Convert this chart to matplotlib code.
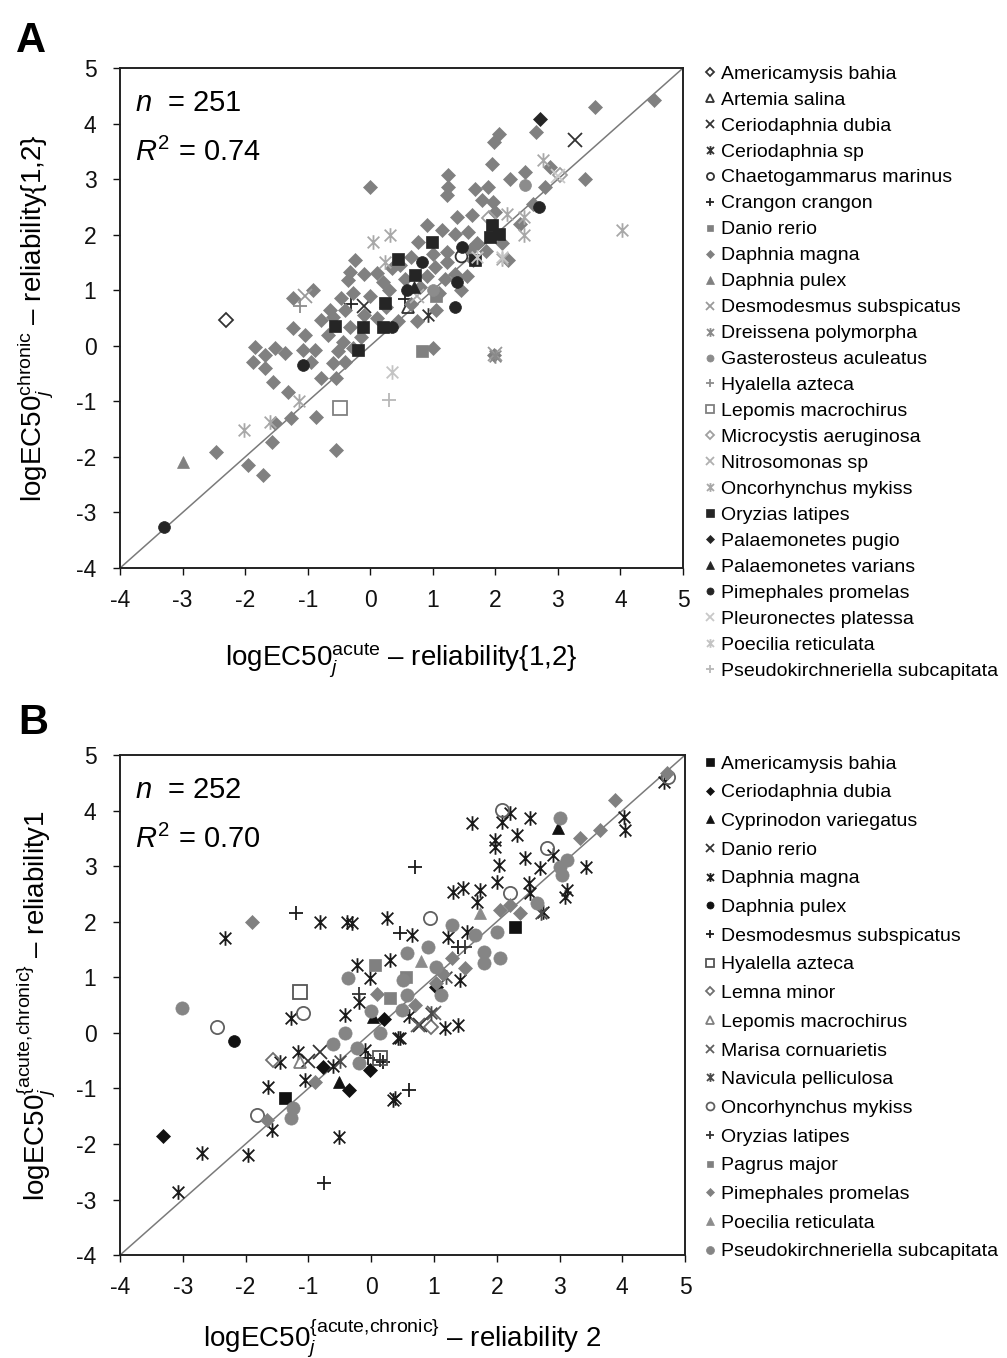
import matplotlib
matplotlib.use("Agg")
import matplotlib.pyplot as plt
from matplotlib.path import Path
import numpy as np

plt.rcParams['font.family'] = ['Liberation Sans', 'DejaVu Sans']
plt.rcParams['mathtext.fontset'] = 'custom'
plt.rcParams['mathtext.rm'] = 'Liberation Sans'
plt.rcParams['mathtext.it'] = 'Liberation Sans:italic'
plt.rcParams['mathtext.bf'] = 'Liberation Sans:bold'
plt.rcParams['axes.unicode_minus'] = False

# asterisk marker (x with vertical bar)
AST = Path([(-1, -1), (1, 1), (-1, 1), (1, -1), (0, -1.25), (0, 1.25)],
           [Path.MOVETO, Path.LINETO, Path.MOVETO, Path.LINETO, Path.MOVETO, Path.LINETO])

# ---------------- Panel A data ----------------
species_A = ["Americamysis bahia", "Artemia salina", "Ceriodaphnia dubia", "Ceriodaphnia sp",
             "Chaetogammarus marinus", "Crangon crangon", "Danio rerio", "Daphnia magna",
             "Daphnia pulex", "Desmodesmus subspicatus", "Dreissena polymorpha",
             "Gasterosteus aculeatus", "Hyalella azteca", "Lepomis macrochirus",
             "Microcystis aeruginosa", "Nitrosomonas sp", "Oncorhynchus mykiss",
             "Oryzias latipes", "Palaemonetes pugio", "Palaemonetes varians",
             "Pimephales promelas", "Pleuronectes platessa", "Poecilia reticulata",
             "Pseudokirchneriella subcapitata"]

A_americamysis_x = [-2.3]
A_americamysis_y = [0.47]
A_artemia_x = [0.6]
A_artemia_y = [0.7]
A_cdubia_x = [3.27, -0.1]
A_cdubia_y = [3.7, 0.72]
A_csp_x = [0.93]
A_csp_y = [0.55]
A_chaeto_x = [1.45]
A_chaeto_y = [1.62]
A_crangon_x = [0.55, -0.3]
A_crangon_y = [0.85, 0.75]
A_danio_x = [0.82, 1.05]
A_danio_y = [-0.1, 0.9]
A_dmagna_x = [-1.52, -1.57, -1.95, -1.72, -2.47, -0.54, -1.26, -0.86, -1.84, -1.87, -1.68,
              -1.52, -1.36, -1.68, -1.55, -1.31, -1.23, -1.04, -1.07, -0.88, -0.94, -0.78,
              -0.67, -0.59, -0.51, -0.59, -0.78, -0.54, -0.40, -0.44, -0.32, -0.27, -0.40,
              0.00, -0.24, -0.32, -0.36, -0.91, -1.23, -0.46, -0.64, -0.27, 0.10,
              4.53, 3.59, 2.65, 2.05, 1.98, 1.94, 2.87, 3.43, 1.25, 1.25, 1.22, 2.23, 2.48,
              1.67, 1.88, 1.78, 1.96, 1.99, 1.38, 1.62, 0.90, 1.14, 1.36, 1.57, 0.77, 1.01,
              1.22, 1.59, 1.70, 0.48, 1.04, 1.22, 1.36, 1.00, 1.97,
              0.10, 0.30, 0.55, 0.65, 0.80, 1.10, 1.20, 0.00, -0.10, 0.20, 0.45, 0.75, 1.05,
              1.55, 1.65, 1.85, -0.15, 0.25, 0.90, 1.45, 0.65, 0.35, -0.10, 2.10, 2.20, 2.40,
              2.60, 2.80]
A_dmagna_y = [-1.39, -1.73, -2.15, -2.33, -1.91, -1.88, -1.30, -1.28, -0.02, -0.29, -0.17,
              -0.04, -0.13, -0.40, -0.65, -0.83, 0.32, 0.19, -0.08, -0.08, -0.29, 0.46,
              0.19, 0.52, -0.10, -0.31, -0.58, -0.58, -0.29, 0.07, 0.34, -0.04, 0.64,
              2.86, 1.54, 1.33, 1.18, 1.00, 0.86, 0.86, 0.64, 0.95, 1.31,
              4.42, 4.30, 3.84, 3.81, 3.67, 3.28, 3.22, 3.01, 3.07, 2.86, 2.71, 3.01, 3.13,
              2.83, 2.86, 2.62, 2.59, 2.41, 2.32, 2.35, 2.17, 2.08, 2.02, 2.05, 1.87, 1.66,
              1.69, 1.72, 1.85, 1.45, 1.42, 1.51, 1.30, -0.04, -0.17,
              0.50, 1.00, 1.20, 0.75, 1.05, 0.95, 1.20, 0.90, 1.30, 1.15, 0.45, 0.45, 0.65,
              1.25, 1.55, 1.70, 0.15, 0.70, 1.25, 1.00, 1.60, 1.40, 0.55, 1.85, 1.55, 2.20,
              2.55, 2.85]
A_dpulex_x = [-3.0]
A_dpulex_y = [-2.1]
A_desmo_x = [1.99, -1.05]
A_desmo_y = [-0.14, 0.90]
A_dreiss_x = [2.0]
A_dreiss_y = [-0.18]
A_gaster_x = [2.48, 1.0]
A_gaster_y = [2.89, 1.0]
A_hyal_x = [-1.12]
A_hyal_y = [0.72]
A_lepomis_x = [-0.48]
A_lepomis_y = [-1.12]
A_microc_x = [3.03, 1.9]
A_microc_y = [3.07, 2.3]
A_nitro_x = [0.75]
A_nitro_y = [0.9]
A_onco_x = [-2.02, -1.60, -1.14, 0.04, 0.32, 0.24, 2.76, 2.18, 2.45, 2.45, 4.02, 2.10]
A_onco_y = [-1.52, -1.37, -1.00, 1.87, 1.99, 1.51, 3.34, 2.38, 2.32, 2.00, 2.08, 1.57]
A_oryz_x = [-0.12, 0.20, -0.19, 0.24, 0.45, 0.98, 0.72, 1.94, 1.91, 2.05, 1.67, -0.56]
A_oryz_y = [0.34, 0.34, -0.08, 0.77, 1.56, 1.87, 1.27, 2.17, 1.96, 2.02, 1.54, 0.35]
A_ppugio_x = [2.71]
A_ppugio_y = [4.09]
A_pvar_x = [0.7]
A_pvar_y = [1.05]
A_pime_x = [-3.30, -1.07, 0.34, 0.58, 0.82, 1.46, 1.36, 1.38, 2.69]
A_pime_y = [-3.27, -0.35, 0.34, 1.00, 1.51, 1.78, 0.69, 1.15, 2.50]
A_pleur_x = [3.0]
A_pleur_y = [3.05]
A_poec_x = [0.34, 2.10, 1.70]
A_poec_y = [-0.47, 1.60, 1.60]
A_pseudo_x = [0.3]
A_pseudo_y = [-0.98]

# ---------------- Panel B data ----------------
species_B = ["Americamysis bahia", "Ceriodaphnia dubia", "Cyprinodon variegatus", "Danio rerio",
             "Daphnia magna", "Daphnia pulex", "Desmodesmus subspicatus", "Hyalella azteca",
             "Lemna minor", "Lepomis macrochirus", "Marisa cornuarietis", "Navicula pelliculosa",
             "Oncorhynchus mykiss", "Oryzias latipes", "Pagrus major", "Pimephales promelas",
             "Poecilia reticulata", "Pseudokirchneriella subcapitata"]

B_americ_x = [2.29, -1.37]
B_americ_y = [1.91, -1.18]
B_cdubia_x = [-3.31, -0.76, -0.36, -0.02, 1.04, 0.20]
B_cdubia_y = [-1.86, -0.61, -1.03, -0.67, 0.83, 0.25]
B_cypr_x = [-0.52, 0.03, 2.98]
B_cypr_y = [-0.88, 0.29, 3.68]
B_danio_x = [-0.81, 0.78, -1.00]
B_danio_y = [-0.34, 0.14, -0.50]
B_dmagna_x = [-2.33, -0.81, -0.39, -0.30, -0.23, -0.02, 0.30, -1.27, -2.70, -1.96, -3.07,
              -0.52, -1.58, -1.64, -1.05, -1.45, -1.16, -0.42, -0.20, 0.43, 0.35, 0.38, 0.46,
              1.18, 1.39, 1.42, 4.66, 4.02, 4.04, 3.43, 2.90, 3.12, 3.09, 2.74, 2.45, 2.69,
              2.51, 2.53, 1.60, 2.08, 2.21, 2.53, 2.32, 1.97, 1.97, 2.03, 2.00, 1.31, 1.47,
              1.73, 1.68, 0.25, 0.65, 1.23, 1.52, -0.60, -0.10, 0.60]
B_dmagna_y = [1.70, 2.00, 2.00, 1.98, 1.22, 0.99, 1.31, 0.26, -2.17, -2.20, -2.86,
              -1.87, -1.75, -0.97, -0.85, -0.52, -0.34, 0.32, 0.56, -0.10, -1.21, -1.18, -0.10,
              0.08, 0.14, 0.95, 4.52, 3.89, 3.65, 2.99, 3.20, 2.57, 2.45, 2.18, 3.14, 2.96,
              2.69, 2.51, 3.77, 3.80, 3.95, 3.86, 3.56, 3.47, 3.35, 3.02, 2.72, 2.54, 2.60,
              2.57, 2.36, 2.06, 1.76, 1.73, 1.82, -0.60, -0.30, 0.30]
B_dpulex_x = [-2.18]
B_dpulex_y = [-0.15]
B_desmo_x = [-1.19, 0.70, 0.46, -0.75, 0.19, 0.61, 1.39, -0.05]
B_desmo_y = [2.15, 2.99, 1.79, -2.71, -0.52, -1.03, 1.55, -0.45]
B_hyal_x = [-1.13, 0.14]
B_hyal_y = [0.74, -0.45]
B_lemna_x = [-1.56, 0.95]
B_lemna_y = [-0.49, 0.10]
B_lepomis_x = [-1.13]
B_lepomis_y = [-0.52]
B_marisa_x = [1.00, 0.75]
B_marisa_y = [0.35, 0.15]
B_navic_x = [0.95, 1.20, -0.50, 2.70]
B_navic_y = [0.35, 1.00, -0.50, 2.15]
B_onco_x = [-2.46, -1.09, -1.82, 0.94, 2.08, 2.80, 2.21, 4.73]
B_onco_y = [0.11, 0.35, -1.48, 2.06, 4.01, 3.32, 2.51, 4.60]
B_oryz_x = [0.14, 1.50, -0.20]
B_oryz_y = [-0.49, 1.55, 0.70]
B_pagrus_x = [0.06, 0.30, 0.55]
B_pagrus_y = [1.22, 0.62, 1.00]
B_pime_x = [-1.90, -1.66, -0.89, 4.71, 3.89, 3.65, 3.33, 2.21, 2.05, 2.37, 1.28, 1.49, 1.04,
            1.15, 0.10, 0.70]
B_pime_y = [2.00, -1.57, -0.88, 4.67, 4.19, 3.65, 3.50, 2.30, 2.21, 2.15, 1.34, 1.16, 0.89,
            1.05, 0.70, 0.50]
B_poec_x = [1.73, 0.80]
B_poec_y = [2.15, 1.30]
B_pseudo_x = [-3.02, -0.37, -1.24, -1.27, -0.42, -0.23, -0.20, 0.14, 0.49, 0.57, 1.12, 3.01,
              3.01, 3.12, 3.04, 2.64, 1.28, 2.00, 1.65, 1.79, 2.05, 1.79, 1.04, 0.91, 0.57,
              0.51, 0.00, -0.60]
B_pseudo_y = [0.44, 0.99, -1.36, -1.54, 0.00, -0.28, -0.55, 0.00, 0.41, 0.68, 0.68, 3.86,
              2.99, 3.11, 2.84, 2.33, 1.94, 1.82, 1.76, 1.46, 1.34, 1.25, 1.19, 1.55, 1.43,
              0.95, 0.40, -0.20]

ticks = [-4, -3, -2, -1, 0, 1, 2, 3, 4, 5]

# style: (marker, color, filled, size)
DK = '#333333'
G = '#808080'
styleA = [('D', DK, False, 7.5), ('^', DK, False, 8.5), ('x', DK, False, 9.5), (AST, DK, False, 10.5),
          ('o', DK, False, 8.5), ('+', '#222222', False, 10.5), ('s', G, True, 8.0), ('D', G, True, 7.6),
          ('^', G, True, 9.0), ('x', '#9a9a9a', False, 9.5), (AST, '#8a8a8a', False, 10.5),
          ('o', '#8c8c8c', True, 8.5), ('+', '#8c8c8c', False, 10.5), ('s', G, False, 9.5),
          ('D', '#a0a0a0', False, 7.5), ('x', '#b0b0b0', False, 9.5), (AST, '#a8a8a8', False, 10.5),
          ('s', '#252525', True, 8.5), ('D', '#252525', True, 7.6), ('^', '#252525', True, 8.5),
          ('o', '#252525', True, 8.5), ('x', '#c8c8c8', False, 9.5), (AST, '#c4c4c4', False, 10.5),
          ('+', '#b8b8b8', False, 10.5)]
dataA = [(A_americamysis_x, A_americamysis_y), (A_artemia_x, A_artemia_y), (A_cdubia_x, A_cdubia_y),
         (A_csp_x, A_csp_y), (A_chaeto_x, A_chaeto_y), (A_crangon_x, A_crangon_y),
         (A_danio_x, A_danio_y), (A_dmagna_x, A_dmagna_y), (A_dpulex_x, A_dpulex_y),
         (A_desmo_x, A_desmo_y), (A_dreiss_x, A_dreiss_y), (A_gaster_x, A_gaster_y),
         (A_hyal_x, A_hyal_y), (A_lepomis_x, A_lepomis_y), (A_microc_x, A_microc_y),
         (A_nitro_x, A_nitro_y), (A_onco_x, A_onco_y), (A_oryz_x, A_oryz_y),
         (A_ppugio_x, A_ppugio_y), (A_pvar_x, A_pvar_y), (A_pime_x, A_pime_y),
         (A_pleur_x, A_pleur_y), (A_poec_x, A_poec_y), (A_pseudo_x, A_pseudo_y)]

K = '#111111'
styleB = [('s', K, True, 8.5), ('D', K, True, 7.6), ('^', K, True, 8.5), ('x', '#333333', False, 9.5),
          (AST, '#1a1a1a', False, 10.5), ('o', K, True, 8.5), ('+', '#1a1a1a', False, 10.5),
          ('s', '#555555', False, 9.5), ('D', '#707070', False, 7.5), ('^', '#808080', False, 9.0),
          ('x', '#606060', False, 9.5), (AST, '#4a4a4a', False, 10.5), ('o', '#606060', False, 9.5),
          ('+', '#333333', False, 10.5), ('s', G, True, 8.0), ('D', G, True, 7.6),
          ('^', '#8c8c8c', True, 9.0), ('o', '#858585', True, 9.5)]
dataB = [(B_americ_x, B_americ_y), (B_cdubia_x, B_cdubia_y), (B_cypr_x, B_cypr_y),
         (B_danio_x, B_danio_y), (B_dmagna_x, B_dmagna_y), (B_dpulex_x, B_dpulex_y),
         (B_desmo_x, B_desmo_y), (B_hyal_x, B_hyal_y), (B_lemna_x, B_lemna_y),
         (B_lepomis_x, B_lepomis_y), (B_marisa_x, B_marisa_y), (B_navic_x, B_navic_y),
         (B_onco_x, B_onco_y), (B_oryz_x, B_oryz_y), (B_pagrus_x, B_pagrus_y),
         (B_pime_x, B_pime_y), (B_poec_x, B_poec_y), (B_pseudo_x, B_pseudo_y)]

fig = plt.figure(figsize=(10.07, 13.58), dpi=100)
axA = fig.add_axes([0.1192, 0.5817, 0.5591, 0.3682])
axB = fig.add_axes([0.1192, 0.0758, 0.5611, 0.3682])


def draw(ax, species, styles, data, n_text, r_text, xlabel, ylabel, leg_top, leg_spacing,
         xpad, ypad):
    ax.plot([-4, 5], [-4, 5], color='#7a7a7a', lw=1.1, zorder=1)
    for name, (mk, col, filled, ms), (xs, ys) in zip(species, styles, data):
        kw = dict(linestyle='none', marker=mk, markersize=ms, label=name, zorder=3)
        if filled:
            kw.update(markerfacecolor=col, markeredgecolor=col, markeredgewidth=0.5)
        else:
            kw.update(markerfacecolor='none', markeredgecolor=col, markeredgewidth=1.3)
        ax.plot(xs, ys, **kw)
    ax.set_xlim(-4, 5)
    ax.set_ylim(-4, 5)
    ax.set_xticks(ticks)
    ax.set_yticks(ticks)
    ax.tick_params(direction='out', length=5, width=1.0, labelsize=16.5, colors='#111111')
    ax.tick_params(axis='x', pad=10)
    ax.tick_params(axis='y', pad=12)
    for sp in ax.spines.values():
        sp.set_linewidth(1.4)
        sp.set_color('#222222')
    ax.set_xlabel(xlabel, fontsize=20, labelpad=xpad)
    ax.set_ylabel(ylabel, fontsize=20, labelpad=ypad)
    ax.text(0.027, 0.914, n_text, transform=ax.transAxes, fontsize=21, va='baseline')
    ax.text(0.027, 0.814, r_text, transform=ax.transAxes, fontsize=21, va='baseline')
    leg = ax.legend(loc='upper left', bbox_to_anchor=(0.699, leg_top), bbox_transform=fig.transFigure,
                    frameon=False, fontsize=14, markerscale=0.6, handlelength=0.65,
                    handletextpad=0.25, labelspacing=leg_spacing, borderaxespad=0, borderpad=0)
    return leg


draw(axA, species_A, styleA, dataA, r'$n$  = 251', r'$R^{\mathrm{2}}$ = 0.74',
     r'logEC50$_{j}^{\mathrm{acute}}$ – reliability{1,2}',
     r'logEC50$_{j}^{\mathrm{chronic}}$ – reliability{1,2}', 1 - 65 / 1358, 0.43, 21, 15)
draw(axB, species_B, styleB, dataB, r'$n$  = 252', r'$R^{\mathrm{2}}$ = 0.70',
     r'logEC50$_{j}^{\{\mathrm{acute{,}chronic}\}}$ – reliability 2',
     r'logEC50$_{j}^{\{\mathrm{acute{,}chronic}\}}$ – reliability1', 1 - 755 / 1358, 0.57, 13, 13)

fig.text(0.016, 1 - 52 / 1358, 'A', fontsize=30, fontweight='bold', va='baseline')
fig.text(0.018, 1 - 734 / 1358, 'B', fontsize=30, fontweight='bold', va='baseline')

fig.savefig('out.png', dpi=100)
